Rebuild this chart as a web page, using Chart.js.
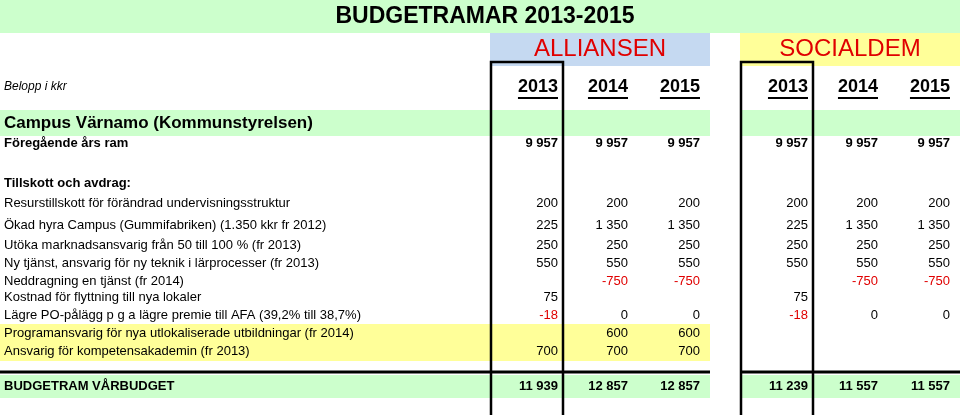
<!DOCTYPE html>
<html>
<head>
<meta charset="utf-8">
<script src="https://cdn.jsdelivr.net/npm/chart.js@4"></script>
<style>
  body { margin: 0; background: #fff; }
  canvas { display: block; }
</style>
</head>
<body>
<canvas id="budget" width="960" height="415"></canvas>
<script>
// rader i tabellen
var rowLabels = [
  'Campus Värnamo (Kommunstyrelsen)',
  'Föregående års ram',
  'Tillskott och avdrag:',
  'Resurstillskott för förändrad undervisningsstruktur',
  'Ökad hyra Campus (Gummifabriken) (1.350 kkr fr 2012)',
  'Utöka marknadsansvarig från 50 till 100 % (fr 2013)',
  'Ny tjänst, ansvarig för ny teknik i lärprocesser (fr 2013)',
  'Neddragning en tjänst (fr 2014)',
  'Kostnad för flyttning till nya lokaler',
  'Lägre PO-pålägg p g a lägre premie till AFA (39,2% till 38,7%)',
  'Programansvarig för nya utlokaliserade utbildningar (fr 2014)',
  'Ansvarig för kompetensakademin (fr 2013)',
  'BUDGETRAM VÅRBUDGET'
];
var years = ['2013', '2014', '2015', '2013', '2014', '2015'];
var groups = ['ALLIANSEN', 'SOCIALDEM'];

// värden per kolumn
var alliansen2013 = [null, 9957, null, 200, 225, 250, 550, null, 75, -18, null, 700, 11939];
var alliansen2014 = [null, 9957, null, 200, 1350, 250, 550, -750, null, 0, 600, 700, 12857];
var alliansen2015 = [null, 9957, null, 200, 1350, 250, 550, -750, null, 0, 600, 700, 12857];
var socialdem2013 = [null, 9957, null, 200, 225, 250, 550, null, 75, -18, null, null, 11239];
var socialdem2014 = [null, 9957, null, 200, 1350, 250, 550, -750, null, 0, null, null, 11557];
var socialdem2015 = [null, 9957, null, 200, 1350, 250, 550, -750, null, 0, null, null, 11557];
var columns = [alliansen2013, alliansen2014, alliansen2015, socialdem2013, socialdem2014, socialdem2015];

// layout (pixlar i skalan)
var rowY = [123, 143, 183, 203, 225, 245, 263, 281, 297, 315, 333, 351, 386];
var colRight = [558, 628, 700, 808, 878, 950];
var boldRows = [0, 1, 2, 12];
var FONT = '"Liberation Sans", Arial, sans-serif';

function fmt(v) {
  var s = Math.abs(v).toString().replace(/\B(?=(\d{3})+(?!\d))/g, ' ');
  return (v < 0 ? '-' : '') + s;
}

var tablePlugin = {
  id: 'table',
  beforeDatasetsDraw: function(chart) {
    var c = chart.ctx, xs = chart.scales.x, ys = chart.scales.y;
    function X(v) { return xs.getPixelForValue(v); }
    function Y(v) { return ys.getPixelForValue(v); }
    function rect(x0, y0, x1, y1, col) { c.fillStyle = col; c.fillRect(X(x0), Y(y0), X(x1) - X(x0), Y(y1) - Y(y0)); }
    c.save();
    // bakgrunder
    rect(0, 0, 960, 33, '#ccffcc');
    rect(490, 33, 710, 66, '#c5d9f1');
    rect(740, 33, 960, 66, '#ffff99');
    rect(0, 110, 710, 136, '#ccffcc');
    rect(740, 110, 960, 136, '#ccffcc');
    rect(0, 324, 710, 361, '#ffff99');
    rect(0, 375, 710, 398, '#ccffcc');
    rect(740, 375, 960, 398, '#ccffcc');
    // linjer
    c.strokeStyle = '#000';
    c.lineWidth = 3;
    c.beginPath();
    c.moveTo(X(0), Y(372)); c.lineTo(X(710), Y(372));
    c.moveTo(X(740), Y(372)); c.lineTo(X(960), Y(372));
    c.stroke();
    c.lineWidth = 2.5;
    [[491, 563], [741, 813]].forEach(function(b) {
      c.beginPath();
      c.moveTo(X(b[0]), Y(415)); c.lineTo(X(b[0]), Y(62)); c.lineTo(X(b[1]), Y(62)); c.lineTo(X(b[1]), Y(415));
      c.stroke();
    });
    // rubriker
    c.fillStyle = '#000';
    c.textBaseline = 'middle';
    c.textAlign = 'center';
    c.font = 'bold 23px ' + FONT;
    c.fillText('BUDGETRAMAR 2013-2015', X(485), Y(17));
    c.fillStyle = '#e00000';
    c.font = '24px ' + FONT;
    c.fillText(groups[0], X(600), Y(49));
    c.fillText(groups[1], X(850), Y(49));
    c.fillStyle = '#000';
    c.textAlign = 'left';
    c.font = 'italic 12px ' + FONT;
    c.fillText('Belopp i kkr', X(4), Y(87));
    c.textAlign = 'right';
    c.font = 'bold 18px ' + FONT;
    years.forEach(function(y, i) {
      var xr = X(colRight[i]), w = c.measureText(y).width;
      c.fillText(y, xr, Y(87));
      c.fillRect(xr - w, Y(97), w, 2);
    });
    // rader
    rowLabels.forEach(function(lab, r) {
      var bold = boldRows.indexOf(r) >= 0;
      c.textAlign = 'left';
      c.fillStyle = '#000';
      c.font = (bold ? 'bold ' : '') + (r === 0 ? '17px ' : '13px ') + FONT;
      c.fillText(lab, X(4), Y(rowY[r]));
      c.textAlign = 'right';
      c.font = ((r === 1 || r === 12) ? 'bold ' : '') + '13px ' + FONT;
      columns.forEach(function(col, k) {
        var v = col[r];
        if (v === null) return;
        c.fillStyle = v < 0 ? '#e00000' : '#000';
        c.fillText(fmt(v), X(colRight[k]), Y(rowY[r]));
      });
    });
    c.restore();
  }
};

new Chart(document.getElementById('budget').getContext('2d'), {
  type: 'scatter',
  data: { datasets: [{ data: [], pointRadius: 0 }] },
  options: {
    responsive: false,
    animation: false,
    layout: { padding: 0 },
    plugins: { legend: { display: false }, tooltip: { enabled: false } },
    scales: {
      x: { type: 'linear', min: 0, max: 960, display: false },
      y: { type: 'linear', min: 0, max: 415, reverse: true, display: false }
    }
  },
  plugins: [tablePlugin]
});
</script>
</body>
</html>
